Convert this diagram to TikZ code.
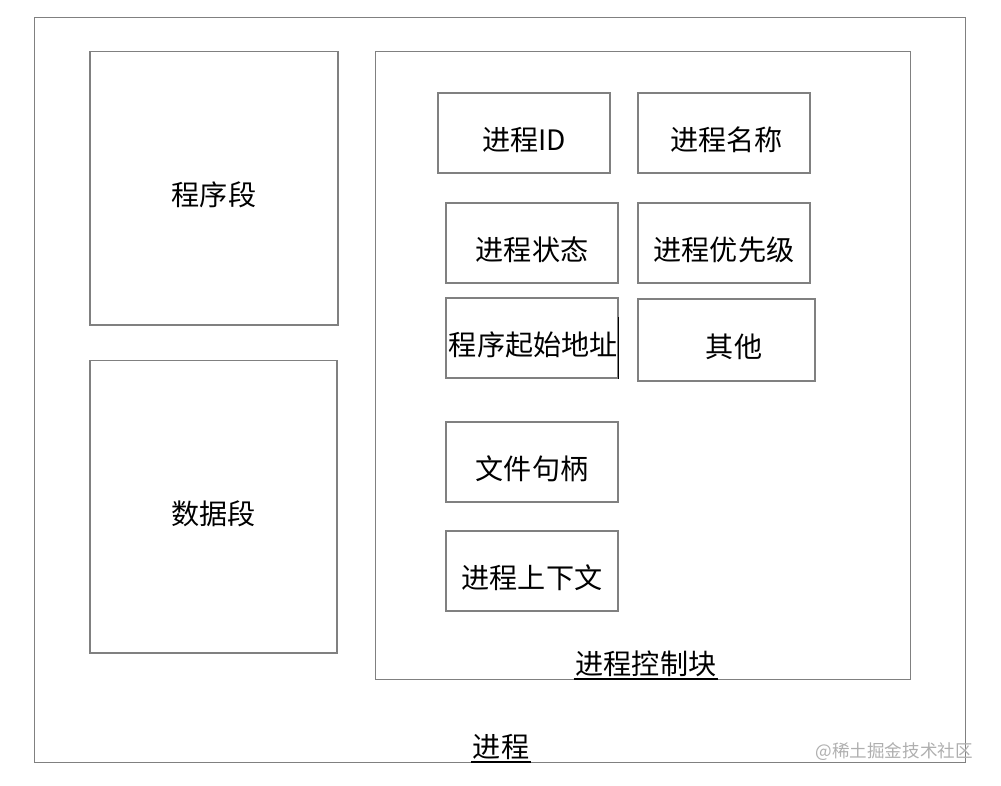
\documentclass[tikz,border=0pt]{standalone}
\usepackage{fontspec}
\newfontfamily\cjk{Noto Sans CJK SC}
\definecolor{boxgray}{RGB}{128,128,128}
\definecolor{markgray}{RGB}{175,175,175}
\tikzset{
  blk/.style={draw=boxgray,line width=0.6pt,inner sep=0pt,
    text height=2.05em,text depth=0.05em},
  titlelbl/.style={inner sep=1pt,text height=0.95em,text depth=0.12em},
}
\begin{document}
\begin{tikzpicture}[x=0.02cm,y=-0.02cm,font=\cjk\fontsize{16}{19}\selectfont]
\useasboundingbox (0,0) rectangle (1001,785);

% --- Processo esterno ---
\node[blk,minimum width=18.64cm,minimum height=14.92cm] (proc) at (500,390) {};
\node[titlelbl,anchor=south] (proclbl) at (501,762) {进程};
\draw[black,line width=0.6pt] (proclbl.south west) -- (proclbl.south east); % sottolineato

% --- Segmenti a sinistra ---
\node[blk,minimum width=4.96cm,minimum height=5.48cm] (code) at (214,188) {程序段};
\node[blk,minimum width=4.94cm,minimum height=5.86cm] (data) at (213.5,506.5) {数据段};

% --- Blocco di controllo ---
\node[blk,minimum width=10.72cm,minimum height=12.58cm] (pcb) at (643,365.5) {};
\node[titlelbl,anchor=south] (pcblbl) at (646,679) {进程控制块};
\draw[black,line width=0.6pt] (pcblbl.south west) -- (pcblbl.south east);

% campi del PCB
\node[blk,minimum width=3.44cm,minimum height=1.6cm] (pid) at (524,133) {进程ID};
\node[blk,minimum width=3.44cm,minimum height=1.6cm] (pname) at (724,133) {\hspace{0.1cm}进程名称};
\node[blk,minimum width=3.44cm,minimum height=1.6cm] (pstate) at (532,243) {进程状态};
\node[blk,minimum width=3.44cm,minimum height=1.6cm] (pprio) at (724,243) {进程优先级};
\node[blk,minimum width=3.44cm,minimum height=1.6cm] (paddr) at (532,338) {\hspace{0.05cm}程序起始地址};
\draw[black,line width=0.8pt] ([yshift=-0.4cm]paddr.north east) -- (paddr.south east);
\node[blk,minimum width=3.54cm,minimum height=1.64cm] (pother) at (726.5,340) {\hspace{0.3cm}其他};
\node[blk,minimum width=3.44cm,minimum height=1.6cm] (pfile) at (532,462) {文件句柄};
\node[blk,minimum width=3.44cm,minimum height=1.6cm] (pctx) at (532,571) {进程上下文};

% filigrana
\node[text=markgray,font=\cjk\fontsize{10}{12}\selectfont,anchor=east] (mark) at (979,752) {@稀土掘金技术社区};

\end{tikzpicture}
\end{document}
